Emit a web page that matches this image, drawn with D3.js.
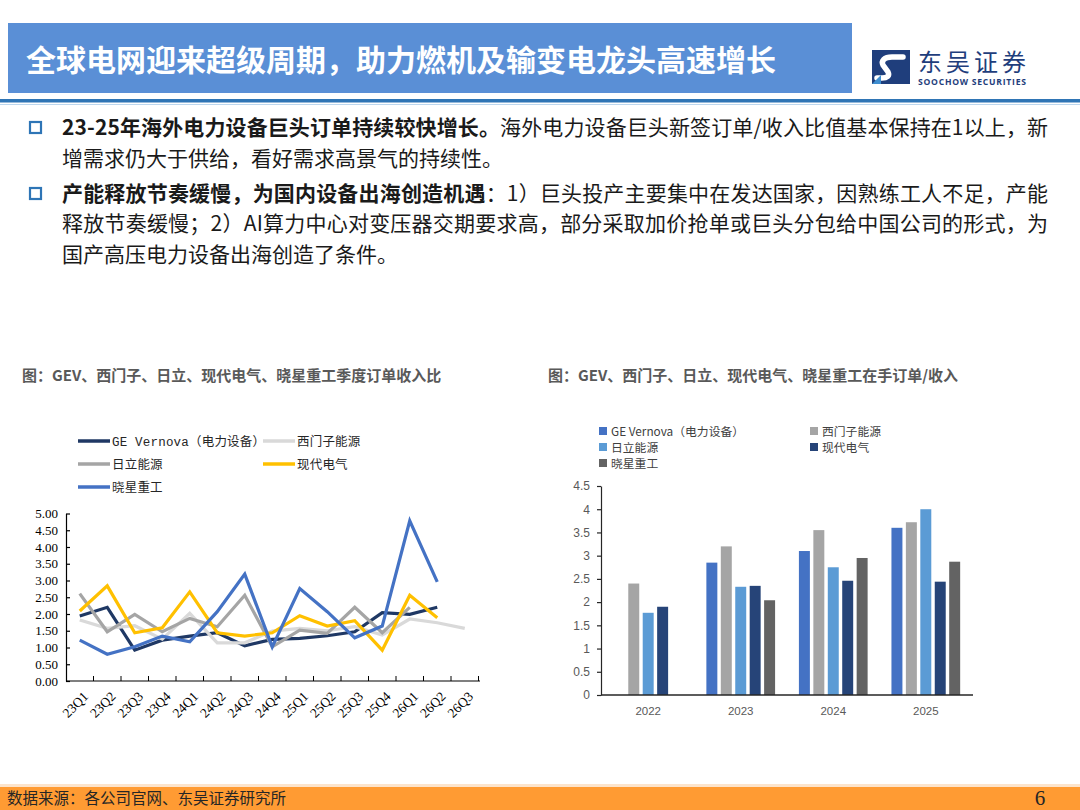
<!DOCTYPE html>
<html lang="zh-CN">
<head>
  <meta charset="UTF-8">
  <title>全球电网迎来超级周期</title>
  <script src="https://cdn.jsdelivr.net/npm/d3@7"></script>
  <style>
    body { margin:0; background:#fff; }
    svg { display:block; font-family:"Noto Sans CJK SC", "Noto Sans", sans-serif; }
    .serif { font-family:"Liberation Serif", "Noto Sans CJK SC", serif; }
    .mono { font-family:"Liberation Mono", "Noto Sans CJK SC", monospace; }
  </style>
</head>
<body>
  <svg id="page" width="1080" height="810"></svg>

  <script>
  // ---- 左图：季度订单收入比 ----
  const quarters = ["23Q1","23Q2","23Q3","23Q4","24Q1","24Q2","24Q3","24Q4","25Q1","25Q2","25Q3","25Q4","26Q1","26Q2","26Q3"];
  const lineNames = ["GE Vernova（电力设备）","西门子能源","日立能源","现代电气","晓星重工"];
  const geRatio      = [1.94,2.20,0.92,1.22,1.34,1.44,1.05,1.24,1.27,1.35,1.47,2.04,1.99,2.20,null];
  const siemensRatio = [1.82,1.57,1.65,1.25,2.02,1.14,1.14,1.49,1.57,1.50,1.62,1.37,1.85,1.74,1.57];
  const hitachiRatio = [2.61,1.47,1.99,1.47,1.87,1.62,2.56,1.02,1.52,1.42,2.20,1.44,2.20,null,null];
  const hyundaiRatio = [2.09,2.84,1.44,1.59,2.66,1.44,1.34,1.44,1.95,1.64,1.80,0.92,2.56,1.89,null];
  const hyosungRatio = [1.22,0.80,1.02,1.34,1.17,2.07,3.19,1.02,2.76,2.07,1.29,1.64,4.78,2.96,null];
  const lineColors = ["#1F3864","#D9D9D9","#A5A5A5","#FFC000","#4472C4"];
  const yTicksLeft = [0,0.5,1,1.5,2,2.5,3,3.5,4,4.5,5];

  // ---- 右图：在手订单/收入 ----
  const years = ["2022","2023","2024","2025"];
  const barNames = ["GE Vernova（电力设备）","西门子能源","日立能源","现代电气","晓星重工"];
  const geBacklog      = [null,2.85,3.10,3.60];
  const siemensBacklog = [2.40,3.20,3.55,3.72];
  const hitachiBacklog = [1.77,2.33,2.75,4.00];
  const hyundaiBacklog = [1.90,2.35,2.46,2.44];
  const hyosungBacklog = [null,2.04,2.95,2.87];
  const barColors = ["#4472C4","#A5A5A5","#5B9BD5","#264478","#636363"];
  const yTicksRight = [0,0.5,1,1.5,2,2.5,3,3.5,4,4.5];

  const svg = d3.select("#page");

  // 标题栏
  svg.append("rect").attr("x", 8).attr("y", 23).attr("width", 844).attr("height", 70).attr("fill", "#5A8FD6");
  svg.append("text").attr("x", 26).attr("y", 71)
    .attr("fill", "#fff").attr("font-size", 30).attr("font-weight", 700)
    .text("全球电网迎来超级周期，助力燃机及输变电龙头高速增长");

  // logo
  const logo = svg.append("g").attr("transform", "translate(872,50)");
  logo.append("rect").attr("width", 38).attr("height", 34).attr("fill", "#1F3E7C");
  logo.append("path")
    .attr("d", "M31,7 L20,7 C12,7 9,11 11,15 L16,22 C18,26 15,28 10,28 L5,28")
    .attr("fill", "none").attr("stroke", "#fff").attr("stroke-width", 5.5).attr("stroke-linecap", "round");
  logo.append("path")
    .attr("d", "M0,34 L9,25 L9,34 Z").attr("fill", "#3E8ED0");
  logo.append("text").attr("x", 46).attr("y", 21).attr("font-size", 24).attr("fill", "#1F3E7C")
    .attr("textLength", 108).text("东吴证券");
  logo.append("text").attr("x", 46).attr("y", 35).attr("font-size", 8.6).attr("font-weight", 700)
    .attr("font-family", "'Open Sans', sans-serif").attr("fill", "#1F3E7C")
    .attr("textLength", 108).text("SOOCHOW SECURITIES");

  // 分隔线
  svg.append("rect").attr("x", 0).attr("y", 99).attr("width", 1080).attr("height", 3.5).attr("fill", "#2F75B5");
  svg.append("rect").attr("x", 0).attr("y", 104).attr("width", 1080).attr("height", 1).attr("fill", "#BDD7EE");

  // 要点文字（两端对齐的行用 textLength 撑满）
  const bullets = [
    { y: 128, full: true, parts: [["23-25年海外电力设备巨头订单持续较快增长。", 700], ["海外电力设备巨头新签订单/收入比值基本保持在1以上，新", 400]] },
    { y: 159, noMark: true, parts: [["增需求仍大于供给，看好需求高景气的持续性。", 400]] },
    { y: 194, full: true, parts: [["产能释放节奏缓慢，为国内设备出海创造机遇", 700], ["：1）巨头投产主要集中在发达国家，因熟练工人不足，产能", 400]] },
    { y: 224, full: true, noMark: true, parts: [["释放节奏缓慢；2）AI算力中心对变压器交期要求高，部分采取加价抢单或巨头分包给中国公司的形式，为", 400]] },
    { y: 255, noMark: true, parts: [["国产高压电力设备出海创造了条件。", 400]] }
  ];
  bullets.forEach(b => {
    if (!b.noMark) {
      svg.append("rect").attr("x", 30).attr("y", b.y - 6).attr("width", 11).attr("height", 11)
        .attr("fill", "none").attr("stroke", "#2E75B6").attr("stroke-width", 2.2);
    }
    const t = svg.append("text").attr("x", 62).attr("y", b.y + 7).attr("font-size", 21).attr("fill", "#1a1a1a");
    if (b.full) t.attr("textLength", 986).attr("lengthAdjust", "spacing");
    b.parts.forEach(p => t.append("tspan").attr("font-weight", p[1]).text(p[0]));
  });

  // 图标题
  svg.append("text").attr("x", 22).attr("y", 381).attr("font-size", 15).attr("font-weight", 700).attr("fill", "#595959")
    .text("图：GEV、西门子、日立、现代电气、晓星重工季度订单收入比");
  svg.append("text").attr("x", 548).attr("y", 381).attr("font-size", 15).attr("font-weight", 700).attr("fill", "#595959")
    .text("图：GEV、西门子、日立、现代电气、晓星重工在手订单/收入");

  // ================= 左图 =================
  const lineSeries = [geRatio, siemensRatio, hitachiRatio, hyundaiRatio, hyosungRatio];
  const xL = d3.scaleBand().domain(quarters).range([66, 478.5]);
  const yL = d3.scaleLinear().domain([0, 5]).range([681, 513.5]);
  const left = svg.append("g");

  const yAxisL = left.append("g").attr("transform", "translate(66,0)")
    .call(d3.axisLeft(yL).tickValues(yTicksLeft).tickFormat(d3.format(".2f")).tickSizeInner(-4).tickSizeOuter(0).tickPadding(8));
  yAxisL.selectAll("text").attr("class", "serif").attr("font-size", 13).attr("fill", "#000");
  yAxisL.selectAll("line, path").attr("stroke", "#000").attr("stroke-width", 1.2);

  // x 轴（刻度在类目边界，朝内）
  left.append("line").attr("x1", 66).attr("x2", 480).attr("y1", 681).attr("y2", 681).attr("stroke", "#000").attr("stroke-width", 1.2);
  left.selectAll(".xtick").data(quarters).join("line")
    .attr("x1", d => xL(d) + xL.bandwidth()).attr("x2", d => xL(d) + xL.bandwidth())
    .attr("y1", 681).attr("y2", 676).attr("stroke", "#000");
  left.selectAll(".xlab").data(quarters).join("text")
    .attr("class", "serif").attr("font-size", 13.5).attr("text-anchor", "end").attr("fill", "#000")
    .attr("transform", d => `translate(${xL(d) + xL.bandwidth() / 2 + 6},${694}) rotate(-45)`)
    .attr("dy", "0.35em").text(d => d);

  const line = d3.line()
    .defined(d => d != null)
    .x((d, i) => xL(quarters[i]) + xL.bandwidth() / 2)
    .y(d => yL(d));
  lineSeries.forEach((s, k) => {
    left.append("path").datum(s).attr("d", line)
      .attr("fill", "none").attr("stroke", lineColors[k]).attr("stroke-width", 3.2)
      .attr("stroke-linejoin", "miter");
  });

  // 左图图例
  const legL = [[78, 441], [263, 441], [78, 464], [263, 464], [78, 487]];
  lineNames.forEach((n, k) => {
    const [lx, ly] = legL[k];
    left.append("line").attr("x1", lx).attr("x2", lx + 32).attr("y1", ly).attr("y2", ly)
      .attr("stroke", lineColors[k]).attr("stroke-width", 3.5);
    left.append("text").attr("class", "mono").attr("x", lx + 34).attr("y", ly + 4.5)
      .attr("font-size", 12.5).attr("letter-spacing", 0.2).attr("fill", "#262626").text(n);
  });

  // ================= 右图 =================
  const barSeries = [geBacklog, siemensBacklog, hitachiBacklog, hyundaiBacklog, hyosungBacklog];
  const x0 = d3.scaleBand().domain(years).range([601, 973]).paddingInner(0.22).paddingOuter(0.12);
  const x1 = d3.scaleBand().domain(barNames).range([0, x0.bandwidth()]).paddingInner(0.24).paddingOuter(0.12);
  const yR = d3.scaleLinear().domain([0, 4.5]).range([695, 486]);
  const right = svg.append("g");

  const yAxisR = right.append("g").attr("transform", "translate(601,0)")
    .call(d3.axisLeft(yR).tickValues(yTicksRight).tickFormat(d => d).tickSizeInner(4).tickSizeOuter(0).tickPadding(7));
  yAxisR.selectAll("text").attr("font-size", 12).attr("fill", "#595959");
  yAxisR.selectAll("line, path").attr("stroke", "#262626").attr("stroke-width", 1.2);

  const groups = right.selectAll(".yr").data(years).join("g")
    .attr("transform", d => `translate(${x0(d)},0)`);
  groups.selectAll("rect")
    .data((d, i) => barNames.map((n, k) => ({ n, v: barSeries[k][i], c: barColors[k] })).filter(e => e.v != null))
    .join("rect")
    .attr("x", e => x1(e.n)).attr("width", x1.bandwidth())
    .attr("y", e => yR(e.v)).attr("height", e => yR(0) - yR(e.v))
    .attr("fill", e => e.c);

  const xAxisR = right.append("g").attr("transform", "translate(0,695)")
    .call(d3.axisBottom(x0).tickSize(0).tickPadding(12));
  xAxisR.select(".domain").attr("stroke", "#262626").attr("stroke-width", 1.4).attr("d", "M601,0H973");
  xAxisR.selectAll("text").attr("font-size", 11.5).attr("fill", "#595959");

  // 右图图例
  const legR = [[599, 431], [810, 431], [599, 447], [810, 447], [599, 463]];
  barNames.forEach((n, k) => {
    const [lx, ly] = legR[k];
    right.append("rect").attr("x", lx).attr("y", ly - 4).attr("width", 8).attr("height", 8).attr("fill", barColors[k]);
    right.append("text").attr("x", lx + 12).attr("y", ly + 4.5).attr("font-size", 11.8).attr("fill", "#404040").text(n);
  });

  // 页脚
  svg.append("rect").attr("x", 0).attr("y", 784).attr("width", 1080).attr("height", 3).attr("fill", "#FCE4CC");
  svg.append("rect").attr("x", 0).attr("y", 787).attr("width", 1080).attr("height", 23).attr("fill", "#FF9B33");
  svg.append("text").attr("x", 7).attr("y", 804).attr("font-size", 15.5).attr("fill", "#262626")
    .text("数据来源：各公司官网、东吴证券研究所");
  svg.append("text").attr("class", "serif").attr("x", 1040).attr("y", 805).attr("text-anchor", "middle")
    .attr("font-size", 21).attr("fill", "#262626").text("6");
  </script>
</body>
</html>
